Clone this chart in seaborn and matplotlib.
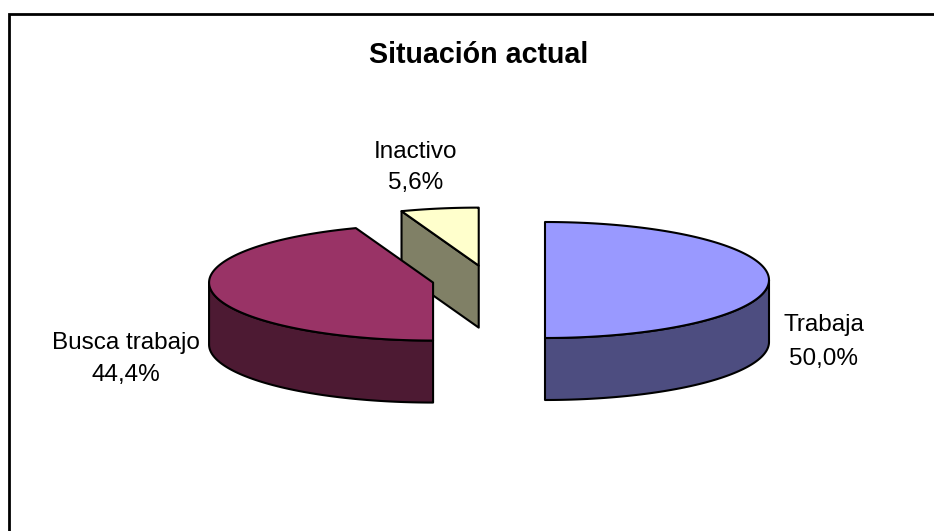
import numpy as np
import matplotlib
matplotlib.use("Agg")
import matplotlib.pyplot as plt
from matplotlib.patches import Polygon
import seaborn as sns

# Data
categories = ["Trabaja", "Busca trabajo", "Inactivo"]
values = [50.0, 44.4, 5.6]
value_labels = ["50,0%", "44,4%", "5,6%"]
title_text = "Situación actual"
top_colors = ["#9999FF", "#993366", "#FFFFCC"]
side_colors = ["#4D4D80", "#4D1A33", "#808066"]

sns.set_theme(style="white")
plt.rcParams["font.family"] = ["Liberation Sans", "DejaVu Sans"]

# Projection of the tilted pie on the canvas (pixels)
CX, CY = 488.6, 280.0
A, B = 224.0, 58.0
DEPTH = 62.0
EXPLODE = 56.4
LW = 1.5

fig = plt.figure(figsize=(9.34, 5.31), dpi=100, facecolor="white")
ax = fig.add_axes([0, 0, 1, 1])
ax.set_xlim(0, 934)
ax.set_ylim(531, 0)
ax.axis("off")

ax.plot([8.8, 8.8, 934], [531, 14, 14], color="black", lw=2.0,
        solid_joinstyle="miter", zorder=1)

fractions = np.array(values) / np.sum(values)
ends = np.cumsum(fractions) * 2 * np.pi
starts = ends - fractions * 2 * np.pi


def project(theta, cx, cy):
    # theta runs clockwise from the top of the pie
    return cx + A * np.sin(theta), cy - B * np.cos(theta)


def draw_wedge(i, z):
    t0, t1 = starts[i], ends[i]
    mid = (t0 + t1) / 2
    cx = CX + EXPLODE * np.sin(mid)
    cy = CY - EXPLODE * (B / A) * np.cos(mid)
    # outer wall: visible part is where the rim faces the viewer
    lo, hi = max(t0, np.pi / 2), min(t1, 3 * np.pi / 2)
    if hi > lo:
        th = np.linspace(lo, hi, 120)
        x, y = project(th, cx, cy)
        ax.add_patch(Polygon(np.r_[np.c_[x, y], np.c_[x[::-1], y[::-1] + DEPTH]],
                             closed=True, fc=side_colors[i], ec="black",
                             lw=LW, joinstyle="round", zorder=z))
    # cut face seen from the front, when the slice's start edge points back-left
    if np.cos(t0) > 0 and np.sin(t0) < 0:
        x0, y0 = project(t0, cx, cy)
        ax.add_patch(Polygon([(x0, y0), (cx, cy), (cx, cy + DEPTH), (x0, y0 + DEPTH)],
                             closed=True, fc=side_colors[i], ec="black",
                             lw=LW, joinstyle="round", zorder=z))
    # top face
    th = np.linspace(t0, t1, 160)
    x, y = project(th, cx, cy)
    ax.add_patch(Polygon(np.r_[[[cx, cy]], np.c_[x, y]], closed=True,
                         fc=top_colors[i], ec="black", lw=LW,
                         joinstyle="round", zorder=z + 0.1))


for i, z in zip([2, 1, 0], [2, 3, 4]):
    draw_wedge(i, z)

ax.text(478.5, 52, title_text, fontsize=20.6, fontweight="bold",
        ha="center", va="center_baseline", color="black")

label_pos = [(823.5, 323, 823.5, 356), (126, 341, 126, 373), (416, 149, 416, 181)]
for name, val, (x1, y1, x2, y2) in zip(categories, value_labels, label_pos):
    ax.text(x1, y1, name, fontsize=17.5, ha="center", va="center_baseline", color="black")
    ax.text(x2, y2, val, fontsize=17.5, ha="center", va="center_baseline", color="black")

fig.savefig("out.png", dpi=100, facecolor="white")
